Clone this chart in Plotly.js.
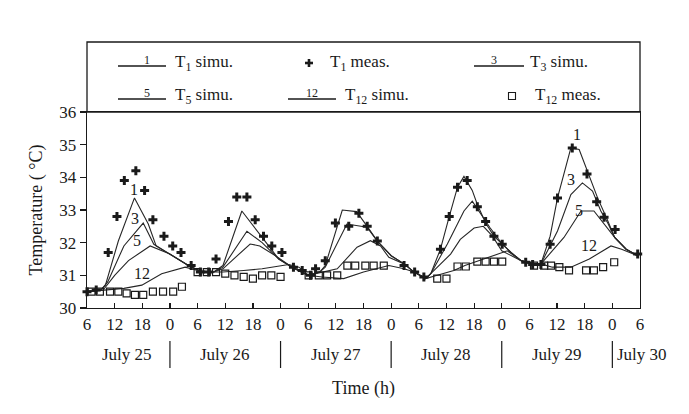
<!DOCTYPE html>
<html><head><meta charset="utf-8">
<script src="https://cdn.plot.ly/plotly-3.0.1.min.js"></script>
<style>html,body{margin:0;padding:0;background:#fff;}#chart{width:689px;height:414px;}</style>
</head><body><div id="chart"></div>
<script>
// ---- data (hours since July 25 06:00, temperature in °C) ----
const tickHours  = [0,6,12,18,24,30,36,42,48,54,60,66,72,78,84,90,96,102,108,114,120];
const tickLabels = ['6','12','18','0','6','12','18','0','6','12','18','0','6','12','18','0','6','12','18','0','6'];
const dayLabels  = ['July 25','July 26','July 27','July 28','July 29','July 30'];
const dayCenters = [8.7, 30, 54, 78, 102, 114.6];
const daySeparators = [18, 42, 66, 90, 114];

const t1SimuH = [0,3,4,6.8,10.3,13.3,15,18,22,25,27.5,29.5,33.6,38,41.6,44.5,48,50.5,51.7,55.4,58.5,60.8,63,66,68.8,71,73.5,74.6,76.7,78.6,80.4,81.8,83.6,84.7,86.5,88.3,90.1,92,94.2,96.5,98.5,100.5,102.1,105,106.8,108.6,110.8,113,114.5,117,119.5];
const t1SimuT = [30.5,30.55,30.7,32.05,33.37,32.57,31.9,31.65,31.3,31.1,31.1,31.3,32.97,32.16,31.5,31.25,31.0,31.1,31.3,33.0,32.95,32.5,32.05,31.6,31.35,31.1,30.9,31.05,31.8,32.8,33.7,34.03,33.6,33.17,32.6,32.2,31.96,31.7,31.45,31.35,31.35,32.2,33.37,34.9,34.85,34.2,33.37,32.67,32.16,31.8,31.6];

const t3SimuH = [0,3,4.5,8,12.2,14.5,18,22,25,27.5,29.5,34.7,38,41.6,44.5,48,50.5,51.7,56.4,60.8,63,66,68.8,71,73.5,74.6,78.2,81.8,83.6,85.8,87.5,90.1,92,94.2,96.5,98.5,102.1,105,107.5,109.7,111.5,113,114.5,117,119.5];
const t3SimuT = [30.5,30.55,30.8,31.9,32.6,31.95,31.65,31.3,31.1,31.1,31.25,32.35,32.0,31.5,31.25,31.0,31.1,31.25,32.57,32.47,32.05,31.6,31.35,31.1,30.9,31.05,31.96,32.97,33.27,32.8,32.45,31.96,31.7,31.45,31.35,31.35,32.36,33.47,33.83,33.58,32.97,32.6,32.16,31.8,31.6];

const t5SimuH = [0,3.5,6,9,13.7,18,22,25,27.5,29.5,35.4,37.5,40.9,44.5,48,51,54.3,58.6,61.5,63.7,65.5,68.8,71,73.5,74.6,78.9,81,84,86,88,90,92,94.2,96.5,98.5,103.5,106.4,107.2,110,111.5,113.2,114.5,117,119.5];
const t5SimuT = [30.5,30.55,31.0,31.45,31.9,31.65,31.3,31.1,31.1,31.2,31.96,31.9,31.6,31.25,31.0,31.1,31.2,31.86,32.06,31.9,31.55,31.35,31.1,30.9,31.05,31.65,32.1,32.45,32.5,32.2,31.75,31.6,31.45,31.35,31.35,32.16,32.8,32.97,32.97,32.7,32.36,32.16,31.8,31.6];

const t12SimuH = [0,4,8,11.9,16.2,21.3,24,27,29.5,34,38,43.8,46,48,51,55.7,60,65.5,68.8,71,73.5,76,79.6,82,86,89,91.2,94.2,96.5,98.5,101,105,109,113.7,116,119.5];
const t12SimuT = [30.5,30.55,30.6,30.7,31.05,31.25,31.15,31.1,31.1,31.15,31.2,31.33,31.25,31.0,30.95,30.9,31.1,31.3,31.2,31.1,30.9,31.0,31.15,31.3,31.5,31.65,31.75,31.45,31.35,31.35,31.25,31.25,31.5,31.9,31.8,31.6];

const t1MeasH = [0,2,4.6,6.5,8.1,10.6,12.5,14.3,16.7,18.6,20.4,22.6,24.6,26.4,28,30.7,32.5,34.7,36.5,38.3,40.1,42.3,44.8,46.7,48.5,49.6,51.7,53.9,56.8,59,60.8,63,68.8,71.1,73.1,76.7,78.6,80.4,82.5,84.7,86.5,88.3,90.1,95.2,96.7,98.5,100.5,102.1,105.3,108.5,110.6,112.2,114.6,119.5];
const t1MeasT = [30.5,30.55,31.7,32.8,33.9,34.2,33.6,32.7,32.2,31.9,31.7,31.3,31.1,31.1,31.5,32.65,33.4,33.4,32.7,32.2,31.9,31.7,31.25,31.15,31.0,31.2,31.45,32.6,32.5,32.9,32.5,32.05,31.3,31.1,30.95,31.8,32.8,33.7,33.9,33.1,32.65,32.2,31.95,31.4,31.33,31.33,31.95,33.37,34.9,34.1,33.25,32.78,32.4,31.65];

const t12MeasH = [1,2.8,5,6.8,8.6,10.4,12.2,14.3,16.5,18.7,20.6,24,26,28,30,32,34,36,38,40,42,48.1,50.3,52.1,54.3,56.5,58.2,60.4,62.2,64.4,76,78,80.4,82.2,84.7,86.5,88.3,90.1,97,99.2,100.7,102.5,104.6,108.3,110,112,114.4];
const t12MeasT = [30.5,30.5,30.5,30.5,30.45,30.4,30.4,30.5,30.5,30.5,30.65,31.1,31.1,31.1,31.05,31.0,30.95,30.9,31.0,31.0,30.95,31.0,31.0,31.0,31.0,31.3,31.3,31.3,31.3,31.3,30.9,30.9,31.27,31.27,31.42,31.42,31.42,31.42,31.3,31.3,31.3,31.25,31.15,31.15,31.15,31.25,31.4];

// curve number labels: [text, hour, temperature]
const curveLabels = [['1',10.1,33.63],['3',10.4,32.75],['5',10.8,32.06],['12',11.9,31.05],
                     ['1',106.4,35.3],['3',105,33.93],['5',106.8,32.97],['12',109,31.9]];

// ---- styling / layout ----
const FONT = 'Liberation Serif, Times New Roman, serif';
const INK = '#1a1a1a';
const W = 689, H = 414, L = 87, R = 49, T = 112, B = 106;
const PW = W - L - R, PH = H - T - B;
const px = x => (x - L) / PW;          // pixel -> paper x
const py = y => (H - B - y) / PH;      // pixel -> paper y

const lineStyle = {color: '#262626', width: 1.1};
const traces = [
  {x: t1SimuH, y: t1SimuT, mode: 'lines', name: 'T1 simu.', line: lineStyle},
  {x: t3SimuH, y: t3SimuT, mode: 'lines', name: 'T3 simu.', line: lineStyle},
  {x: t5SimuH, y: t5SimuT, mode: 'lines', name: 'T5 simu.', line: lineStyle},
  {x: t12SimuH, y: t12SimuT, mode: 'lines', name: 'T12 simu.', line: lineStyle},
  {x: t12MeasH, y: t12MeasT, mode: 'markers', name: 'T12 meas.', cliponaxis: false,
   marker: {symbol: 'square-open', size: 7, color: INK, line: {width: 1.2, color: INK}}},
  {x: t1MeasH, y: t1MeasT, mode: 'markers', name: 'T1 meas.', cliponaxis: false,
   marker: {symbol: 'cross', size: 7.5, color: INK, line: {width: 0}}}
];

const annotations = [];
const shapes = [];
curveLabels.forEach(([t, h, v]) => annotations.push({x: h, y: v, xref: 'x', yref: 'y', text: t,
  showarrow: false, font: {family: FONT, size: 16, color: INK}}));
dayLabels.forEach((d, i) => annotations.push({x: dayCenters[i], y: py(354), xref: 'x', yref: 'paper', text: d,
  showarrow: false, xanchor: i === dayLabels.length - 1 ? 'left' : 'center', yanchor: 'middle',
  font: {family: FONT, size: 17, color: INK}}));
daySeparators.forEach(h => shapes.push({type: 'line', xref: 'x', yref: 'paper', x0: h, x1: h,
  y0: py(341), y1: py(368), line: {color: INK, width: 1.2}}));

// legend box (frame above plot)
shapes.push({type: 'rect', xref: 'paper', yref: 'paper', x0: 0, x1: 1, y0: 1, y1: py(42),
  line: {color: INK, width: 1.3}});
// legend entries
function legLine(x0, x1, y, num) {
  shapes.push({type: 'line', xref: 'paper', yref: 'paper', x0: px(x0), x1: px(x1), y0: py(y), y1: py(y),
    line: {color: INK, width: 1.3}});
  annotations.push({x: px((x0 + x1) / 2), y: py(y - 6), xref: 'paper', yref: 'paper', text: num,
    showarrow: false, yanchor: 'middle', font: {family: FONT, size: 12, color: INK}});
}
function legText(x, y, txt) {
  annotations.push({x: px(x), y: py(y), xref: 'paper', yref: 'paper', text: txt, showarrow: false,
    xanchor: 'left', yanchor: 'middle', font: {family: FONT, size: 17, color: INK}});
}
legLine(118, 166, 66, '1');  legText(173, 63, 'T<sub>1</sub> simu.');
legLine(474, 524, 66, '3');  legText(528, 63, 'T<sub>3</sub> simu.');
legLine(118, 166, 99, '5');  legText(173, 96, 'T<sub>5</sub> simu.');
legLine(288, 336, 99, '12'); legText(343, 96, 'T<sub>12</sub> simu.');
// cross sample
const cx = 309, cy = 63;
shapes.push({type: 'rect', xref: 'paper', yref: 'paper', x0: px(cx - 4), x1: px(cx + 4), y0: py(cy + 1.3), y1: py(cy - 1.3),
  fillcolor: INK, line: {width: 0}});
shapes.push({type: 'rect', xref: 'paper', yref: 'paper', x0: px(cx - 1.3), x1: px(cx + 1.3), y0: py(cy + 4), y1: py(cy - 4),
  fillcolor: INK, line: {width: 0}});
legText(328, 63, 'T<sub>1</sub> meas.');
// square sample
const sx = 512, sy = 96;
shapes.push({type: 'rect', xref: 'paper', yref: 'paper', x0: px(sx - 3.5), x1: px(sx + 3.5), y0: py(sy + 3.5), y1: py(sy - 3.5),
  line: {color: INK, width: 1.1}});
legText(533, 96, 'T<sub>12</sub> meas.');

const layout = {
  width: W, height: H,
  margin: {l: L, r: R, t: T, b: B, pad: 0},
  paper_bgcolor: '#fff', plot_bgcolor: '#fff',
  showlegend: false,
  font: {family: FONT, color: INK, size: 17},
  xaxis: {range: [0, 120], tickmode: 'array', tickvals: tickHours, ticktext: tickLabels,
    ticks: 'inside', ticklen: 5, tickwidth: 1.2, tickcolor: INK,
    showline: true, linecolor: INK, linewidth: 1.4, mirror: true, showgrid: false, zeroline: false,
    tickfont: {family: FONT, size: 17, color: INK},
    title: {text: 'Time (h)', font: {family: FONT, size: 18, color: INK}, standoff: 48}},
  yaxis: {range: [30, 36], dtick: 1, tick0: 30,
    ticks: 'outside', ticklen: 6, tickwidth: 1.2, tickcolor: INK,
    showline: true, linecolor: INK, linewidth: 1.4, mirror: true, showgrid: false, zeroline: false,
    tickfont: {family: FONT, size: 17, color: INK},
    title: {text: 'Temperature ( °C)', font: {family: FONT, size: 18, color: INK}, standoff: 12}},
  annotations: annotations,
  shapes: shapes
};

Plotly.newPlot('chart', traces, layout, {staticPlot: true, displayModeBar: false});
</script>
</body></html>
